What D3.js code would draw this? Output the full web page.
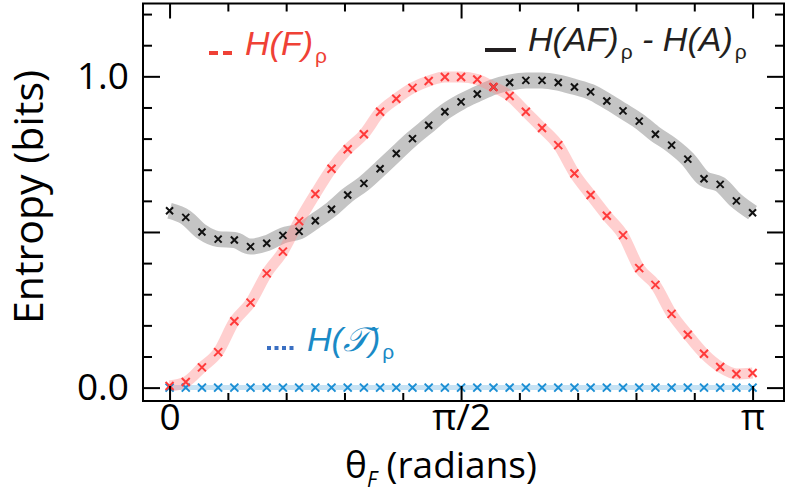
<!DOCTYPE html>
<html>
<head>
<meta charset="utf-8">
<script src="https://cdn.jsdelivr.net/npm/d3@7"></script>
<style>
  body { margin: 0; background: #fff; }
  svg { display: block; }
</style>
</head>
<body>
<div id="chart"></div>
<script>
// Angle grid (degrees) shared by all three series.
const thetaDeg = [0, 5, 10, 15, 20, 25, 30, 35, 40, 45, 50, 55, 60, 65, 70, 75, 80, 85, 90,
                  95, 100, 105, 110, 115, 120, 125, 130, 135, 140, 145, 150, 155, 160, 165, 170, 175, 180];

// H(F)_rho
const hF = [0.005, 0.018, 0.065, 0.114, 0.213, 0.273, 0.367, 0.437, 0.535, 0.622, 0.703, 0.766,
            0.814, 0.886, 0.928, 0.963, 0.985, 0.998, 0.998, 0.990, 0.966, 0.937, 0.886, 0.834,
            0.779, 0.688, 0.619, 0.552, 0.490, 0.384, 0.330, 0.237, 0.170, 0.109, 0.066, 0.044, 0.047];

// H(AF)_rho - H(A)_rho
const hAFminusA = [0.568, 0.547, 0.500, 0.477, 0.474, 0.453, 0.464, 0.489, 0.502, 0.536, 0.573, 0.619,
                   0.656, 0.703, 0.752, 0.800, 0.843, 0.886, 0.918, 0.943, 0.966, 0.980, 0.987, 0.987,
                   0.980, 0.966, 0.950, 0.921, 0.889, 0.856, 0.814, 0.779, 0.734, 0.671, 0.653, 0.600, 0.562];

// H(T)_rho
const hT = [0, 0, 0, 0, 0, 0, 0, 0, 0, 0, 0, 0, 0, 0, 0, 0, 0, 0, 0,
            0, 0, 0, 0, 0, 0, 0, 0, 0, 0, 0, 0, 0, 0, 0, 0, 0, 0];

const xMajor = [0, 90, 180];
const xMajorLabels = ["0", "\u03C0/2", "\u03C0"];
const xMinor = [18, 36, 54, 72, 108, 126, 144, 162];
const yMajor = [0, 0.5, 1.0];
const yMajorLabels = ["0.0", "", "1.0"];
const yMinor = [0.1, 0.2, 0.3, 0.4, 0.6, 0.7, 0.8, 0.9, 1.1, 1.2];

const W = 786, H = 499;
const frame = {left: 143, right: 784, top: 3.5, bottom: 401};

const svg = d3.select("#chart").append("svg")
    .attr("width", W)
    .attr("height", H);

const x = d3.scaleLinear()
    .domain([-8.2, 189.7])
    .range([frame.left, frame.right]);

const y = d3.scaleLinear()
    .domain([-0.043, 1.234])
    .range([frame.bottom, frame.top]);

const pts = arr => thetaDeg.map((t, i) => ({t: t, v: arr[i]}));

const band = d3.line()
    .x(d => x(d.t))
    .y(d => y(d.v))
    .curve(d3.curveMonotoneX);

// Shaded bands.
svg.append("path")
    .datum(pts(hT))
    .attr("fill", "none")
    .attr("stroke", "#c6e2f4")
    .attr("stroke-width", 5)
    .attr("d", band);

svg.append("path")
    .datum(pts(hAFminusA))
    .attr("fill", "none")
    .attr("stroke", "#c4c4c4")
    .attr("stroke-width", 16)
    .attr("stroke-linecap", "butt")
    .attr("d", band);

svg.append("path")
    .datum(pts(hF))
    .attr("fill", "none")
    .attr("stroke", "#ff8c8c")
    .attr("stroke-opacity", 0.42)
    .attr("stroke-width", 11)
    .attr("d", band);

// Cross markers.
function crosses(arr, color, r, sw) {
  svg.append("g").selectAll("path")
    .data(pts(arr))
    .join("path")
      .attr("d", d => {
        let cx = x(d.t), cy = y(d.v);
        return `M${cx - r},${cy - r}L${cx + r},${cy + r}M${cx - r},${cy + r}L${cx + r},${cy - r}`;
      })
      .attr("stroke", color)
      .attr("stroke-width", sw)
      .attr("fill", "none");
}
crosses(hT, "#1c8fd4", 4, 2);
crosses(hAFminusA, "#111", 3.5, 2);
crosses(hF, "#ff3a3a", 4, 2);

// Frame and inward ticks on all four sides.
const axisFont = "'Open Sans', 'Noto Sans', sans-serif";

function styleAxis(g) {
  g.select(".domain").remove();
  g.selectAll("line").attr("stroke", "#000").attr("stroke-width", 2);
  g.selectAll("text").attr("font-family", axisFont).attr("font-size", 37).attr("fill", "#000");
}

svg.append("g")
    .attr("transform", `translate(0,${frame.bottom})`)
    .call(d3.axisBottom(x).tickValues(xMajor).tickSize(-15).tickPadding(3)
      .tickFormat((d, i) => xMajorLabels[i]))
    .call(styleAxis);
svg.append("g")
    .attr("transform", `translate(0,${frame.bottom})`)
    .call(d3.axisBottom(x).tickValues(xMinor).tickSize(-8).tickFormat(""))
    .call(styleAxis);
svg.append("g")
    .attr("transform", `translate(0,${frame.top})`)
    .call(d3.axisTop(x).tickValues(xMajor).tickSize(-15).tickFormat(""))
    .call(styleAxis);
svg.append("g")
    .attr("transform", `translate(0,${frame.top})`)
    .call(d3.axisTop(x).tickValues(xMinor).tickSize(-8).tickFormat(""))
    .call(styleAxis);

svg.append("g")
    .attr("transform", `translate(${frame.left},0)`)
    .call(d3.axisLeft(y).tickValues(yMajor).tickSize(-17).tickPadding(14)
      .tickFormat((d, i) => yMajorLabels[i]))
    .call(styleAxis);
svg.append("g")
    .attr("transform", `translate(${frame.left},0)`)
    .call(d3.axisLeft(y).tickValues(yMinor).tickSize(-9).tickFormat(""))
    .call(styleAxis);
svg.append("g")
    .attr("transform", `translate(${frame.right},0)`)
    .call(d3.axisRight(y).tickValues(yMajor).tickSize(-17).tickFormat(""))
    .call(styleAxis);
svg.append("g")
    .attr("transform", `translate(${frame.right},0)`)
    .call(d3.axisRight(y).tickValues(yMinor).tickSize(-9).tickFormat(""))
    .call(styleAxis);

svg.append("rect")
    .attr("x", frame.left)
    .attr("y", frame.top)
    .attr("width", frame.right - frame.left)
    .attr("height", frame.bottom - frame.top)
    .attr("fill", "none")
    .attr("stroke", "#000")
    .attr("stroke-width", 2);

// Axis titles.
svg.append("text")
    .attr("transform", "translate(43,197) rotate(-90)")
    .attr("text-anchor", "middle")
    .attr("font-family", axisFont)
    .attr("font-size", 41)
    .text("Entropy (bits)");

let xt = svg.append("text")
    .attr("x", 345)
    .attr("y", 478)
    .attr("font-family", axisFont)
    .attr("font-size", 37);
xt.append("tspan").text("\u03B8");
xt.append("tspan").attr("font-size", 21).attr("font-style", "italic").attr("dy", 9).text("F");
xt.append("tspan").attr("dy", -9).text(" (radians)");

// Legend entries.
const legendFont = "'Liberation Sans', Arial, sans-serif";

function legendLabel(x0, base, color, parts) {
  let t = svg.append("text")
      .attr("x", x0)
      .attr("y", base)
      .attr("font-family", legendFont)
      .attr("fill", color);
  parts.forEach(p => {
    let s = t.append("tspan").text(p.s);
    if (p.sub) s.attr("font-size", 21).attr("dx", 2).attr("dy", 8);
    else s.attr("font-size", 34).attr("font-style", "italic").attr("dy", p.up ? -8 : 0);
    if (p.family) s.attr("font-family", p.family);
  });
}

// red dashes
svg.append("g").selectAll("rect")
  .data([209, 223])
  .join("rect")
    .attr("x", d => d).attr("y", 51).attr("width", 9).attr("height", 4)
    .attr("fill", "#ef4136");
legendLabel(245, 55, "#ef4136", [{s: "H(F)"}, {s: "\u03C1", sub: true}]);

// black bar
svg.append("rect")
    .attr("x", 485).attr("y", 48).attr("width", 31).attr("height", 4)
    .attr("fill", "#231f20");
legendLabel(528, 51, "#231f20", [
  {s: "H(AF)"}, {s: "\u03C1", sub: true}, {s: " - H(A)", up: true}, {s: "\u03C1", sub: true}
]);

// blue dots
svg.append("g").selectAll("rect")
  .data([267, 274.5, 282, 289.5])
  .join("rect")
    .attr("x", d => d).attr("y", 346).attr("width", 4).attr("height", 4)
    .attr("fill", "#3a6fc2");
legendLabel(307, 351, "#1a8ac6", [
  {s: "H("}, {s: "\uD835\uDCAF", family: "'DejaVu Serif', 'DejaVu Sans', serif"}, {s: ")"}, {s: "\u03C1", sub: true}
]);
</script>
</body>
</html>
